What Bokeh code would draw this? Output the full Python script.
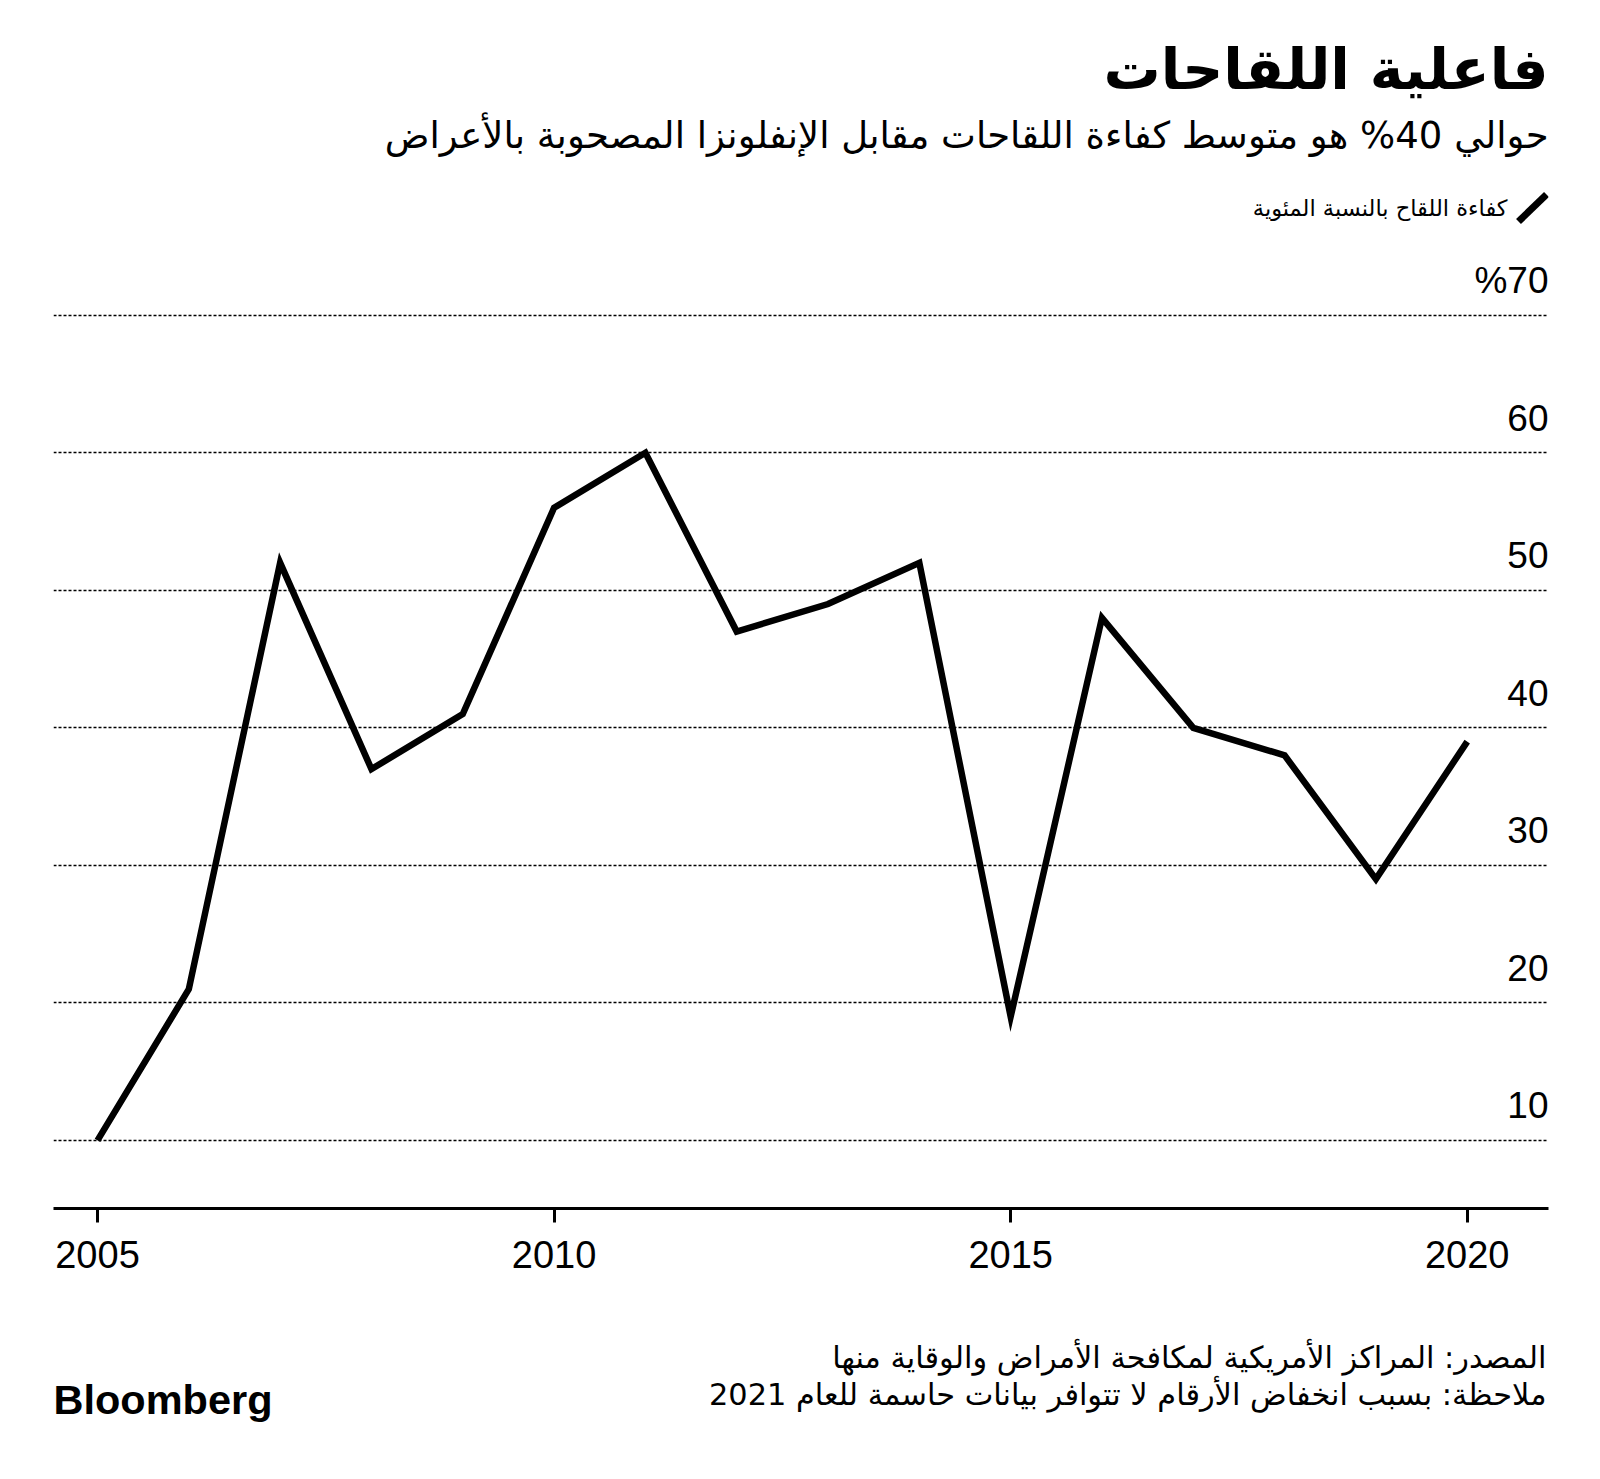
from bokeh.plotting import figure
from bokeh.models import Range1d, FixedTicker, ColumnDataSource
from bokeh.layouts import column
from bokeh.embed import file_html
from bokeh.resources import INLINE
from bokeh.core.properties import value

# ---- data ----
years = [2005, 2006, 2007, 2008, 2009, 2010, 2011, 2012, 2013, 2014, 2015, 2016, 2017, 2018, 2019, 2020]
effectiveness = [10, 21, 52, 37, 41, 56, 60, 47, 49, 52, 19, 48, 40, 38, 29, 39]
ytick_vals = [10, 20, 30, 40, 50, 60, 70]
ytick_labels = ["10", "20", "30", "40", "50", "60", "%70"]
xtick_vals = [2005, 2010, 2015, 2020]

title_text = "فاعلية اللقاحات"
subtitle_text = "حوالي 40% هو متوسط كفاءة اللقاحات مقابل الإنفلونزا المصحوبة بالأعراض"
legend_text = "كفاءة اللقاح بالنسبة المئوية"
source_text = "المصدر: المراكز الأمريكية لمكافحة الأمراض والوقاية منها"
note_text = "ملاحظة: بسبب انخفاض الأرقام لا تتوافر بيانات حاسمة للعام 2021"

AR_FONT = "DejaVu Sans"
NUM_FONT = "Liberation Sans"
W = 1600
LEFT, RIGHT = 53, 1548
BASE_FIX = 0.36  # alphabetic baseline correction (fraction of font size)


def blank(height, top):
    f = figure(width=W, height=height, output_backend="svg", toolbar_location=None,
               x_range=Range1d(LEFT, RIGHT), y_range=Range1d(top + height, top),
               min_border_left=LEFT, min_border_right=W - RIGHT, min_border_top=0, min_border_bottom=0,
               outline_line_color=None)
    f.axis.visible = False
    f.grid.visible = False
    f.background_fill_color = "white"
    f.border_fill_color = "white"
    return f


def txt(fig, x, baseline, s, size, bold=False, align="right", font=AR_FONT):
    fig.text(x=[x], y=[baseline - BASE_FIX * size], text=[s], text_align=align,
             text_baseline="alphabetic", text_font=value(font),
             text_font_style="bold" if bold else "normal",
             text_font_size=f"{size}px", text_color="black")

# ---- header ----
HEAD_H = 246
head = blank(HEAD_H, 0)
txt(head, 1548, 89, title_text, 57, bold=True)
txt(head, 1548, 148, subtitle_text, 37)
head.segment(x0=[1518], y0=[221], x1=[1546], y1=[194], line_width=7, line_color="black")
head.text(x=[1507], y=[207], text=[legend_text], text_align="right", text_baseline="middle",
          text_font=value(AR_FONT), text_font_size="22.5px", text_color="black")

# ---- main chart ----
MAIN_H = 1054
src = ColumnDataSource(dict(x=years, y=effectiveness))
p = figure(width=W, height=MAIN_H, output_backend="svg", toolbar_location=None,
           x_range=Range1d(2004.518, 2020.89), y_range=Range1d(5.05, 75.0),
           min_border_left=LEFT, min_border_right=W - RIGHT, min_border_top=0, min_border_bottom=92,
           outline_line_color=None)
p.background_fill_color = "white"
p.border_fill_color = "white"
p.yaxis.visible = False
p.xgrid.visible = False
p.ygrid.ticker = FixedTicker(ticks=ytick_vals)
p.ygrid.grid_line_color = "black"
p.ygrid.grid_line_dash = "3 2"
p.ygrid.grid_line_width = 1.5

p.xaxis.ticker = FixedTicker(ticks=xtick_vals)
p.xaxis.axis_line_width = 3
p.xaxis.axis_line_color = "black"
p.xaxis.major_tick_line_width = 3
p.xaxis.major_tick_line_color = "black"
p.xaxis.major_tick_out = 14
p.xaxis.major_tick_in = 0
p.xaxis.minor_tick_line_color = None
p.xaxis.major_label_text_font = NUM_FONT
p.xaxis.major_label_text_font_size = "38px"
p.xaxis.major_label_text_color = "black"
p.xaxis.major_label_standoff = 18

p.line("x", "y", source=src, line_width=6.5, line_color="black", line_join="miter")

lab_src = ColumnDataSource(dict(x=[p.x_range.end] * len(ytick_vals), y=ytick_vals, t=ytick_labels))
p.text(x="x", y="y", text="t", source=lab_src, text_align="right", text_baseline="alphabetic",
       y_offset=-35, text_font=value(NUM_FONT), text_font_size="37px", text_color="black")

# ---- footer ----
FOOT_H = 1479 - HEAD_H - MAIN_H
foot = blank(FOOT_H, HEAD_H + MAIN_H)
txt(foot, 1546, 1368, source_text, 30.4)
txt(foot, 1546, 1405, note_text, 30.4)
txt(foot, 53, 1414, "Bloomberg", 41.5, bold=True, align="left", font=NUM_FONT)

layout = column(head, p, foot, spacing=0)
open("out.html", "w").write(file_html(layout, INLINE))
